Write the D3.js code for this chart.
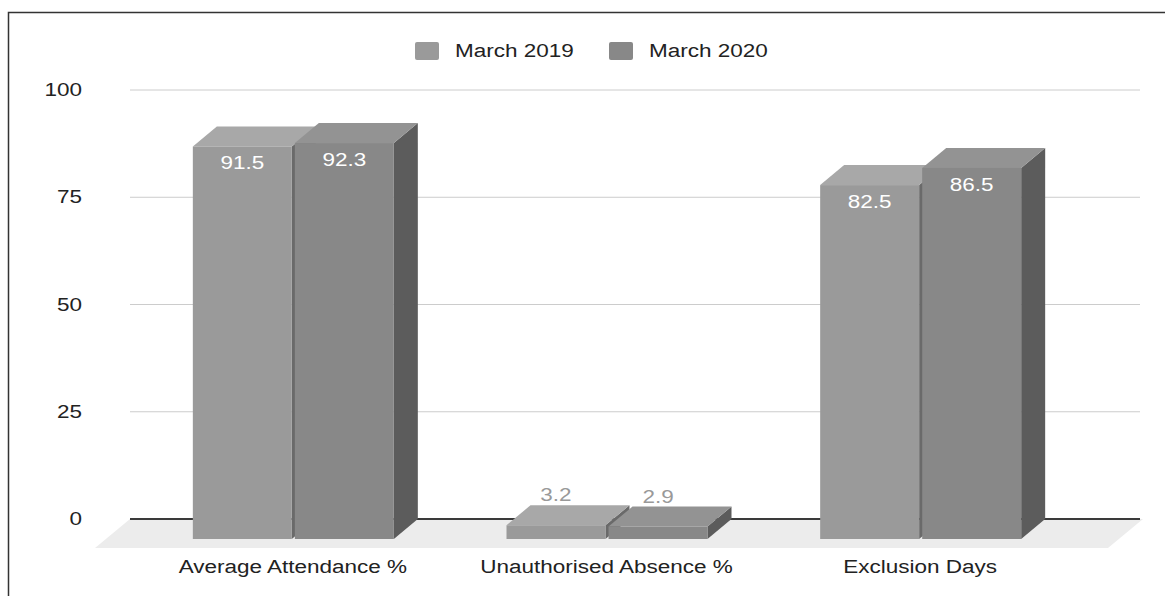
<!DOCTYPE html>
<html>
<head>
<meta charset="utf-8">
<script src="https://cdn.jsdelivr.net/npm/d3@7"></script>
<style>
  body { margin: 0; background: #fff; }
  text { font-family: "Liberation Sans", Arial, sans-serif; }
</style>
</head>
<body>
<svg width="1165" height="596"></svg>
<script>
var svg = d3.select('svg');

// data
var categories = ["Average Attendance %", "Unauthorised Absence %", "Exclusion Days"];
var seriesNames = ["March 2019", "March 2020"];
var values2019 = [91.5, 3.2, 82.5];
var values2020 = [92.3, 2.9, 86.5];
var yTicks = [0, 25, 50, 75, 100];

var colors = {
  "March 2019": {front: "#9a9a9a", top: "#a8a8a8", side: "#6a6a6a"},
  "March 2020": {front: "#888888", top: "#939393", side: "#5c5c5c"}
};

var stretch = 1.25;   // picture text is wide
var depthX = 24, depthY = 20;   // bar depth offset
var wallLeft = 130, wallRight = 1143;

var y = d3.scaleLinear().domain([0, 100]).range([519, 90]);
var x0 = d3.scaleBand().domain(categories).range([136, 1077]);
var x1 = d3.scaleBand().domain(seriesNames).range([0, 201]).paddingInner(0.03);

function label(g, txt, x, yy, anchor, color) {
  return g.append('text')
    .attr('transform', 'translate(' + x + ',' + yy + ') scale(' + stretch + ',1)')
    .attr('text-anchor', anchor)
    .attr('font-size', 18)
    .attr('fill', color)
    .text(txt);
}

// frame
svg.append('rect')
  .attr('x', 8.5).attr('y', 12.5)
  .attr('width', 1200).attr('height', 620)
  .attr('fill', 'none').attr('stroke', '#333').attr('stroke-width', 1.5);

// floor
var floorDepth = 29, floorDx = 35;
svg.append('path')
  .attr('d', 'M' + wallLeft + ',' + y(0) + ' L' + wallRight + ',' + y(0) +
             ' L' + (wallRight - floorDx) + ',' + (y(0) + floorDepth) +
             ' L' + (wallLeft - floorDx) + ',' + (y(0) + floorDepth) + 'Z')
  .attr('fill', '#ececec');

// gridlines
svg.selectAll('line.grid')
  .data(yTicks)
  .enter()
  .append('line')
  .attr('class', 'grid')
  .attr('x1', wallLeft).attr('x2', wallRight - 3)
  .attr('y1', function(d) { return y(d); })
  .attr('y2', function(d) { return y(d); })
  .attr('stroke', function(d) { return d === 0 ? '#3a3a3a' : '#cccccc'; })
  .attr('stroke-width', function(d) { return d === 0 ? 2 : 1; });

// y tick labels
yTicks.forEach(function(t) {
  label(svg, t, 82, y(t) + 6, 'end', '#222');
});

// bars
var bars = [];
categories.forEach(function(c, i) {
  bars.push({cat: c, s: "March 2019", v: values2019[i]});
  bars.push({cat: c, s: "March 2020", v: values2020[i]});
});

var gBars = svg.append('g');
bars.forEach(function(d) {
  var left = x0(d.cat) + x0.bandwidth() / 2 - 100 + x1(d.s);
  var w = x1.bandwidth();
  var base = y(0) + depthY;
  var top = y(d.v) + depthY;
  var col = colors[d.s];
  // side face
  gBars.append('path')
    .attr('d', 'M' + (left + w) + ',' + top + ' L' + (left + w + depthX) + ',' + (top - depthY) +
               ' L' + (left + w + depthX) + ',' + (base - depthY) + ' L' + (left + w) + ',' + base + 'Z')
    .attr('fill', col.side);
  // top face
  gBars.append('path')
    .attr('d', 'M' + left + ',' + top + ' L' + (left + depthX) + ',' + (top - depthY) +
               ' L' + (left + w + depthX) + ',' + (top - depthY) + ' L' + (left + w) + ',' + top + 'Z')
    .attr('fill', col.top);
  // front face
  gBars.append('rect')
    .attr('x', left).attr('y', top)
    .attr('width', w).attr('height', base - top)
    .attr('fill', col.front);
  // value label
  if (base - top > 40) {
    label(gBars, d.v, left + w / 2, top + 23, 'middle', '#ffffff');
  } else {
    label(gBars, d.v, left + w / 2, top - depthY - 4, 'middle', '#999999');
  }
});

// category labels
categories.forEach(function(c) {
  label(svg, c, x0(c) + x0.bandwidth() / 2, 573, 'middle', '#222');
});

// legend
var legendX = [415, 609];
seriesNames.forEach(function(s, i) {
  svg.append('rect')
    .attr('x', legendX[i]).attr('y', 42)
    .attr('width', 24).attr('height', 18)
    .attr('rx', 2)
    .attr('fill', colors[s].front);
  label(svg, s, legendX[i] + 40, 57, 'start', '#222');
});
</script>
</body>
</html>
